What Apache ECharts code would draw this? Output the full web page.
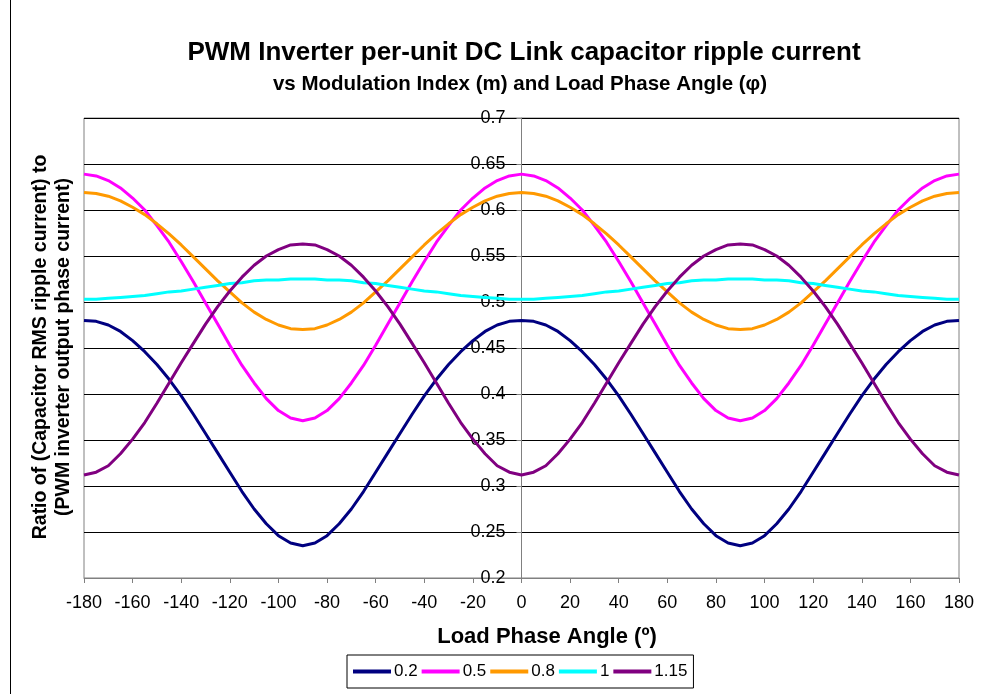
<!DOCTYPE html>
<html>
<head>
<meta charset="utf-8">
<title>PWM Inverter DC Link ripple current</title>
<script src="https://cdn.jsdelivr.net/npm/echarts@6/dist/echarts.min.js"></script>
<style>
  html, body { margin: 0; padding: 0; background: #fff; }
  #chart { width: 982px; height: 694px; }
</style>
</head>
<body>
<div id="chart"></div>
<script>
// load phase angle (deg), 5 deg steps
var angles = [-180, -175, -170, -165, -160, -155, -150, -145, -140, -135, -130, -125, -120, -115, -110, -105, -100, -95,
  -90, -85, -80, -75, -70, -65, -60, -55, -50, -45, -40, -35, -30, -25, -20, -15, -10, -5,
  0, 5, 10, 15, 20, 25, 30, 35, 40, 45, 50, 55, 60, 65, 70, 75, 80, 85,
  90, 95, 100, 105, 110, 115, 120, 125, 130, 135, 140, 145, 150, 155, 160, 165, 170, 175, 180];

var seriesNames = ['0.2', '0.5', '0.8', '1', '1.15'];
var seriesColors = ['#000080', '#FF00FF', '#FF9900', '#00FFFF', '#800080'];

var m02 = [0.480, 0.479, 0.475, 0.468, 0.458, 0.446, 0.432, 0.416, 0.398, 0.378, 0.357, 0.336, 0.315, 0.294, 0.275, 0.259, 0.246, 0.238,
  0.235, 0.238, 0.246, 0.259, 0.275, 0.294, 0.315, 0.336, 0.357, 0.378, 0.398, 0.416, 0.432, 0.446, 0.458, 0.468, 0.475, 0.479,
  0.480, 0.479, 0.475, 0.468, 0.458, 0.446, 0.432, 0.416, 0.398, 0.378, 0.357, 0.336, 0.315, 0.294, 0.275, 0.259, 0.246, 0.238,
  0.235, 0.238, 0.246, 0.259, 0.275, 0.294, 0.315, 0.336, 0.357, 0.378, 0.398, 0.416, 0.432, 0.446, 0.458, 0.468, 0.475, 0.479, 0.480];

var m05 = [0.639, 0.637, 0.632, 0.624, 0.613, 0.600, 0.583, 0.565, 0.544, 0.522, 0.499, 0.476, 0.453, 0.431, 0.412, 0.395, 0.382, 0.374,
  0.371, 0.374, 0.382, 0.395, 0.412, 0.431, 0.453, 0.476, 0.499, 0.522, 0.544, 0.565, 0.583, 0.600, 0.613, 0.624, 0.632, 0.637,
  0.639, 0.637, 0.632, 0.624, 0.613, 0.600, 0.583, 0.565, 0.544, 0.522, 0.499, 0.476, 0.453, 0.431, 0.412, 0.395, 0.382, 0.374,
  0.371, 0.374, 0.382, 0.395, 0.412, 0.431, 0.453, 0.476, 0.499, 0.522, 0.544, 0.565, 0.583, 0.600, 0.613, 0.624, 0.632, 0.637, 0.639];

var m08 = [0.619, 0.618, 0.615, 0.610, 0.603, 0.595, 0.585, 0.574, 0.562, 0.549, 0.536, 0.523, 0.511, 0.499, 0.489, 0.481, 0.475, 0.471,
  0.470, 0.471, 0.475, 0.481, 0.489, 0.499, 0.511, 0.523, 0.536, 0.549, 0.562, 0.574, 0.585, 0.595, 0.603, 0.610, 0.615, 0.618,
  0.619, 0.618, 0.615, 0.610, 0.603, 0.595, 0.585, 0.574, 0.562, 0.549, 0.536, 0.523, 0.511, 0.499, 0.489, 0.481, 0.475, 0.471,
  0.470, 0.471, 0.475, 0.481, 0.489, 0.499, 0.511, 0.523, 0.536, 0.549, 0.562, 0.574, 0.585, 0.595, 0.603, 0.610, 0.615, 0.618, 0.619];

var m10 = [0.503, 0.503, 0.504, 0.505, 0.506, 0.507, 0.509, 0.511, 0.512, 0.514, 0.516, 0.518, 0.520, 0.521, 0.523, 0.524, 0.524, 0.525,
  0.525, 0.525, 0.524, 0.524, 0.523, 0.521, 0.520, 0.518, 0.516, 0.514, 0.512, 0.511, 0.509, 0.507, 0.506, 0.505, 0.504, 0.503,
  0.503, 0.503, 0.504, 0.505, 0.506, 0.507, 0.509, 0.511, 0.512, 0.514, 0.516, 0.518, 0.520, 0.521, 0.523, 0.524, 0.524, 0.525,
  0.525, 0.525, 0.524, 0.524, 0.523, 0.521, 0.520, 0.518, 0.516, 0.514, 0.512, 0.511, 0.509, 0.507, 0.506, 0.505, 0.504, 0.503, 0.503];

var m115 = [0.312, 0.315, 0.322, 0.335, 0.351, 0.369, 0.390, 0.412, 0.434, 0.455, 0.476, 0.495, 0.512, 0.527, 0.540, 0.550, 0.557, 0.562,
  0.563, 0.562, 0.557, 0.550, 0.540, 0.527, 0.512, 0.495, 0.476, 0.455, 0.434, 0.412, 0.390, 0.369, 0.351, 0.335, 0.322, 0.315,
  0.312, 0.315, 0.322, 0.335, 0.351, 0.369, 0.390, 0.412, 0.434, 0.455, 0.476, 0.495, 0.512, 0.527, 0.540, 0.550, 0.557, 0.562,
  0.563, 0.562, 0.557, 0.550, 0.540, 0.527, 0.512, 0.495, 0.476, 0.455, 0.434, 0.412, 0.390, 0.369, 0.351, 0.335, 0.322, 0.315, 0.312];

var seriesValues = [m02, m05, m08, m10, m115];

var font = 'Liberation Sans, Arial, sans-serif';

var chart = echarts.init(document.getElementById('chart'));

var series = seriesNames.map(function (name, i) {
  return {
    name: name,
    type: 'line',
    showSymbol: false,
    symbol: 'none',
    lineStyle: { color: seriesColors[i], width: 3 },
    itemStyle: { color: seriesColors[i] },
    data: angles.map(function (a, k) { return [a, seriesValues[i][k]]; })
  };
});

chart.setOption({
  animation: false,
  backgroundColor: '#fff',
  textStyle: { fontFamily: font },
  title: [{
    text: 'PWM Inverter per-unit DC Link capacitor ripple current',
    left: 519,
    textAlign: 'center',
    top: 35,
    textStyle: { fontSize: 26, fontWeight: 'bold', color: '#000', fontFamily: font }
  }, {
    text: 'vs Modulation Index (m) and Load Phase Angle (φ)',
    left: 515,
    textAlign: 'center',
    top: 69,
    textStyle: { fontSize: 20.5, fontWeight: 'bold', color: '#000', fontFamily: font }
  }],
  grid: {
    left: 84,
    right: 23,
    top: 118,
    bottom: 116,
    show: true,
    borderColor: '#808080',
    borderWidth: 1
  },
  legend: {
    bottom: 6,
    left: 347,
    icon: 'rect',
    itemWidth: 38,
    itemHeight: 4,
    itemGap: 4,
    borderColor: '#000',
    borderWidth: 1,
    padding: [8, 6, 8, 6],
    textStyle: { fontSize: 17, color: '#000', fontFamily: font, padding: [0, 0, 0, -2] },
    data: seriesNames
  },
  xAxis: {
    type: 'value',
    min: -180,
    max: 180,
    interval: 20,
    axisLine: { show: true, onZero: false, lineStyle: { color: '#808080', width: 1 } },
    axisTick: { show: true, length: 5, lineStyle: { color: '#808080' } },
    axisLabel: { fontSize: 18, color: '#000', margin: 16 },
    splitLine: { show: false }
  },
  yAxis: {
    type: 'value',
    min: 0.2,
    max: 0.7,
    interval: 0.05,
    position: 'left',
    offset: -437.5,  // put the axis at x = 0 like the original
    axisLine: { show: true, onZero: false, lineStyle: { color: '#808080', width: 1 } },
    axisTick: { show: true, length: 5, lineStyle: { color: '#808080' } },
    axisLabel: { fontSize: 18, color: '#000', margin: 16 },
    splitLine: { show: true, lineStyle: { color: '#000', width: 1 } }
  },
  graphic: [
    {
      type: 'line',
      shape: { x1: 10.5, y1: 0, x2: 10.5, y2: 694 },
      style: { stroke: '#000', lineWidth: 1 }
    },
    {
      type: 'text',
      x: 52,
      y: 347,
      rotation: Math.PI / 2,
      style: {
        text: 'Ratio of (Capacitor RMS ripple current) to\n(PWM inverter output phase current)',
        fontSize: 19.5,
        fontWeight: 'bold',
        fontFamily: font,
        fill: '#000',
        align: 'center',
        verticalAlign: 'middle',
        lineHeight: 23
      }
    },
    {
      type: 'text',
      x: 547,
      y: 637,
      style: {
        text: 'Load Phase Angle (º)',
        fontSize: 22,
        fontWeight: 'bold',
        fontFamily: font,
        fill: '#000',
        align: 'center',
        verticalAlign: 'middle'
      }
    }
  ],
  series: series
});
</script>
</body>
</html>
